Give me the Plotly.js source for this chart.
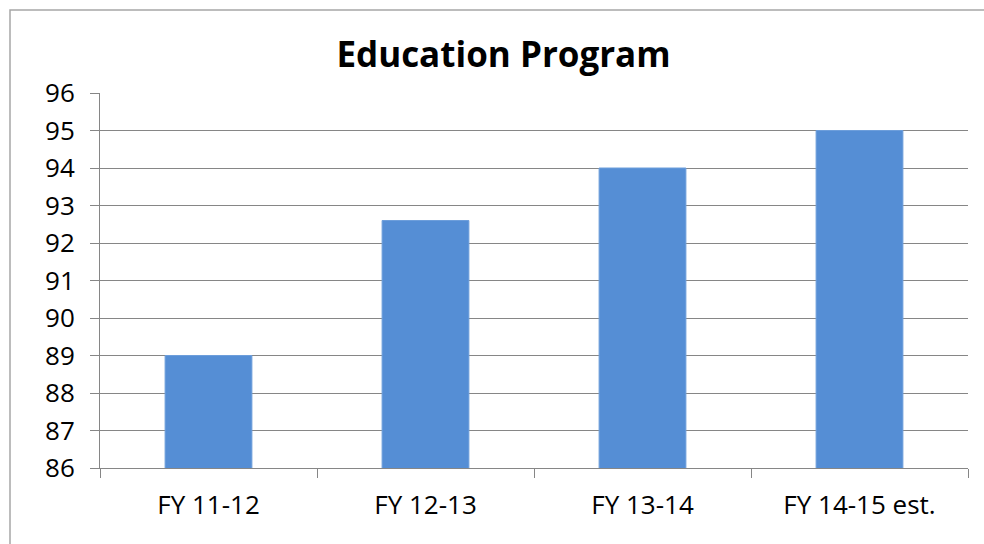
<!DOCTYPE html>
<html>
<head>
<meta charset="utf-8">
<script src="https://cdn.plot.ly/plotly-3.0.1.min.js"></script>
<style>html,body{margin:0;padding:0;background:#fff;}#chart{width:984px;height:544px;}</style>
</head>
<body>
<div id="chart"></div>
<script>
var categories = ["FY 11-12", "FY 12-13", "FY 13-14", "FY 14-15 est."];
var values = [89, 92.6, 94, 95];
var yTicks = [86, 87, 88, 89, 90, 91, 92, 93, 94, 95, 96];

var L = 100, R = 16, T = 93, B = 76, W = 984, H = 544;
var pw = W - L - R, ph = H - T - B;
function px(x) { return (x - L) / pw; }
function py(y) { return (H - B - y) / ph; }

var trace = {
  type: 'bar',
  x: categories,
  y: values,
  marker: { color: '#558ed5', line: { color: '#6d9edb', width: 1 } },
  hoverinfo: 'x+y'
};

var layout = {
  width: W, height: H,
  margin: { l: L, r: R, t: T, b: B, pad: 0 },
  paper_bgcolor: '#ffffff',
  plot_bgcolor: '#ffffff',
  showlegend: false,
  bargap: 0.6,
  font: { family: 'Open Sans, sans-serif', color: '#000000', size: 26 },
  title: {
    text: '<b>Education Program</b>',
    font: { family: 'Open Sans, sans-serif', size: 35, color: '#000000' },
    xref: 'container', yref: 'container',
    x: 503.5 / W, xanchor: 'center',
    y: 1 - 55 / H, yanchor: 'middle'
  },
  xaxis: {
    type: 'category',
    tickson: 'boundaries',
    ticks: 'outside', ticklen: 9, tickcolor: '#868686', tickwidth: 1,
    showline: true, linecolor: '#868686', linewidth: 1,
    showgrid: false,
    tickfont: { size: 26 },
    ticklabelstandoff: 14,
    fixedrange: true
  },
  yaxis: {
    range: [86, 96],
    tickvals: yTicks,
    ticktext: yTicks.map(String),
    ticks: 'outside', ticklen: 9, tickcolor: '#868686', tickwidth: 1,
    showline: true, linecolor: '#868686', linewidth: 1,
    showgrid: true, gridcolor: '#868686', gridwidth: 1,
    zeroline: false,
    tickfont: { size: 26 },
    ticklabelstandoff: 10,
    fixedrange: true
  },
  shapes: [{
    type: 'rect', xref: 'paper', yref: 'paper',
    x0: px(10), x1: px(1000), y0: py(560), y1: py(10),
    line: { color: '#a6a6a6', width: 1.5 },
    fillcolor: 'rgba(0,0,0,0)', layer: 'below'
  }]
};

Plotly.newPlot('chart', [trace], layout, { displayModeBar: false });
</script>
</body>
</html>
